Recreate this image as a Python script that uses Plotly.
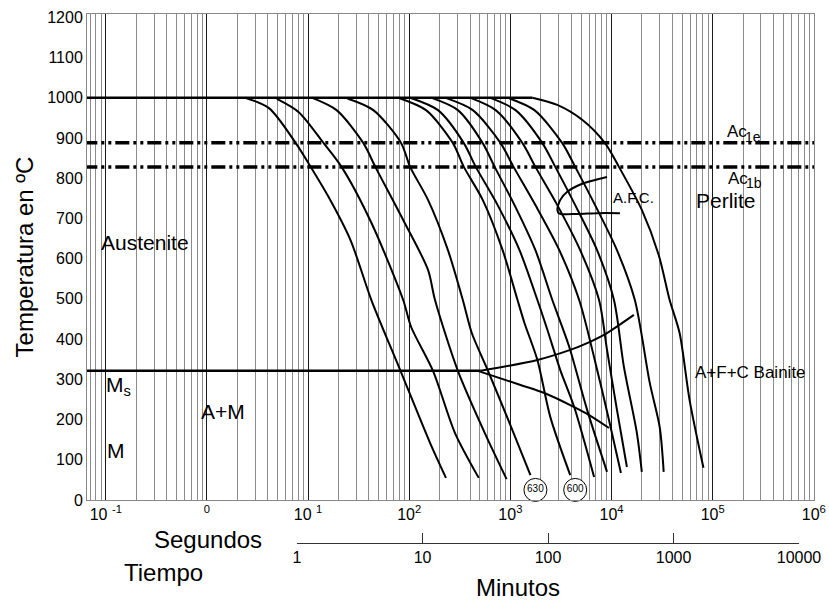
import plotly.graph_objects as go

# ---------------- data (time in seconds, temperature in ºC) ----------------
c1_t = [2.385, 4.106, 7.565, 10.62, 15.97, 26.27, 42.25, 81.45, 160.6, 230.8]
c1_T = [1000, 974, 887, 828, 753, 646, 497, 323, 142, 55]
c2_t = [4.92, 8.095, 14.26, 21.43, 42.25, 87.18, 104.5, 171.9, 282.9, 487]
c2_T = [997, 964, 887, 828, 689, 497, 430, 321, 167, 55]
c3_t = [10.87, 19.13, 35.26, 46.26, 87.18, 153.5, 179.9, 302.8, 557.8, 918]
c3_T = [1000, 969, 887, 828, 696, 572, 497, 321, 167, 52]
c4_t = [24.55, 44.2, 83.33, 102.1, 153.5, 241.5, 339, 415.6, 597, 982.2, 1580]
c4_T = [998, 969, 887, 828, 746, 621, 497, 415, 323, 191, 62]
c5_t = [77.85, 146.7, 270.4, 346.8, 533.1, 838.4, 1177.5, 1379, 1851, 2485, 3907]
c5_T = [1000, 969, 887, 828, 746, 621, 497, 440, 348, 206, 62]
c6_t = [102.1, 192.6, 346.8, 455, 748.7, 1231.6, 1851, 2322, 3117, 4278, 6727]
c6_T = [1000, 969, 887, 828, 733, 621, 497, 423, 323, 231, 57]
c7_t = [164.3, 302.8, 533.1, 699.5, 1100, 1769, 2600, 3336, 3907, 5741, 9029]
c7_T = [1000, 969, 887, 828, 733, 621, 497, 423, 373, 224, 70]
c8_t = [225.6, 425.1, 801.4, 1075.5, 1769, 3047, 4792, 6727, 9445, 12395]
c8_T = [1000, 969, 887, 828, 733, 621, 497, 355, 199, 67]
c9_t = [397.2, 715.5, 1318, 1769, 2912, 4901, 7533, 9029, 11320, 14200]
c9_T = [1000, 969, 887, 828, 733, 621, 497, 373, 224, 82]
c10_t = [624.6, 1125, 2073, 2782, 4375, 7200, 10578, 13264, 17807, 19935]
c10_T = [1000, 969, 887, 828, 733, 621, 497, 331, 167, 70]
c11_t = [938.9, 1730, 3261, 4375, 6880, 11320, 17014, 23897, 29968, 32800]
c11_T = [1000, 969, 887, 828, 733, 621, 497, 291, 181, 70]
c12_t = [1653, 2912, 5127, 8628, 11844, 19935, 29293, 37580, 47130, 59090, 81100]
c12_T = [1000, 982, 945, 887, 828, 721, 609, 497, 415, 249, 80]

aust_t = [0.06, 1653]          # austenitizing hold at 1000 ºC
aust_T = [1000, 1000]
ms_t = [0.06, 509.5]           # Ms line
ms_T = [321, 321]
bs_t = [509.5, 1851, 3907, 5741, 9029, 16634]     # bainite start
bs_T = [321, 348, 373, 390, 415, 460]
bf_t = [476.1, 1260, 2170, 3907, 5741, 9445]      # lower bainite boundary
bf_T = [321, 286, 266, 236, 214, 179]
afc_t = [9029, 5127, 3651, 3117, 2912, 3047, 4578, 7200, 12117]   # A.F.C. nose
afc_T = [803, 786, 766, 746, 721, 712, 711, 713, 713]

ac_t = [0.06, 1.1e6]
ac1e_T = [888, 888]
ac1b_T = [828, 828]

circle_t = [1769, 4375]
circle_T = [25, 25]
circle_labels = ["630", "600"]

sec_tickvals = [0.1, 1, 10, 100, 1e3, 1e4, 1e5, 1e6]
sec_ticktext = ["10 <sup>-1</sup>", "<sup>0</sup>", "10 <sup>1</sup>", "10<sup>2</sup>",
                "10<sup>3</sup>", "10<sup>4</sup>", "10<sup>5</sup>", "10<sup>6</sup>"]
min_tickvals = [1, 10, 100, 1000, 10000]
min_ticktext = ["1", "10", "100", "1000", "10000"]
temp_ticks = list(range(0, 1300, 100))

FONT = "Liberation Sans, Arial, sans-serif"

fig = go.Figure()

curves = [(c1_t, c1_T), (c2_t, c2_T), (c3_t, c3_T), (c4_t, c4_T), (c5_t, c5_T),
          (c6_t, c6_T), (c7_t, c7_T), (c8_t, c8_T), (c9_t, c9_T), (c10_t, c10_T),
          (c11_t, c11_T), (c12_t, c12_T)]
for t, T in curves:
    fig.add_trace(go.Scatter(x=t, y=T, mode="lines",
                             line=dict(color="black", width=2, shape="spline", smoothing=0.8),
                             hoverinfo="skip"))

for t, T, w in [(aust_t, aust_T, 2.5), (ms_t, ms_T, 2.5)]:
    fig.add_trace(go.Scatter(x=t, y=T, mode="lines", line=dict(color="black", width=w),
                             hoverinfo="skip"))
for t, T in [(bs_t, bs_T), (bf_t, bf_T), (afc_t, afc_T)]:
    fig.add_trace(go.Scatter(x=t, y=T, mode="lines",
                             line=dict(color="black", width=2, shape="spline", smoothing=0.8),
                             hoverinfo="skip"))

for T in (ac1e_T, ac1b_T):
    fig.add_trace(go.Scatter(x=ac_t, y=T, mode="lines",
                             line=dict(color="black", width=3.5, dash="14px,4px,3px,4px,3px,4px"),
                             hoverinfo="skip"))

fig.add_trace(go.Scatter(x=circle_t, y=circle_T, mode="markers+text", text=circle_labels,
                         textposition="middle center",
                         textfont=dict(size=10, color="black", family=FONT),
                         marker=dict(symbol="circle", size=23, color="white",
                                     line=dict(color="black", width=1)),
                         cliponaxis=False, hoverinfo="skip"))

# invisible trace so the minutes axis (x2 on a tiny y2) is drawn
fig.add_trace(go.Scatter(x=[1, 10000], y=[None, None], xaxis="x2", yaxis="y2",
                         mode="markers", marker=dict(opacity=0), hoverinfo="skip"))

ann = []
def label(x, y, text, size, xanchor="center"):
    ann.append(dict(x=x, y=y, xref="x", yref="y", text=text, showarrow=False,
                    font=dict(size=size, family=FONT, color="black"), xanchor=xanchor))

label(-0.6154, 641, "Austenite", 21)
label(-0.8709, 283, "M<sub>s</sub>", 21)
label(0.1612, 219, "A+M", 21)
label(-0.9004, 124, "M", 21)
label(5.135, 745, "Perlite", 21)
label(5.125, 917, "Ac", 17, "left")
label(5.302, 903, "1e", 14, "left")
label(5.135, 800, "Ac", 17, "left")
label(5.312, 787, "1b", 14, "left")
label(4.2212, 751, "A.F.C.", 15)
label(5.3716, 318, "A+F+C Bainite", 17)

for x, y, text in [(0.1664, 0.0057, "Segundos"), (0.1059, -0.0567, "Tiempo"),
                   (0.5929, -0.0832, "Minutos")]:
    ann.append(dict(x=x, y=y, xref="paper", yref="paper", text=text, showarrow=False,
                    font=dict(size=24, family=FONT, color="black"),
                    xanchor="center", yanchor="middle"))

fig.update_layout(
    width=829, height=601,
    margin=dict(l=87, r=15, t=14, b=58, autoexpand=False),
    paper_bgcolor="white", plot_bgcolor="rgba(0,0,0,0)",
    showlegend=False,
    font=dict(family=FONT, color="black"),
    annotations=ann,
    xaxis=dict(type="log", range=[-1.1855, 6.002], tickmode="array",
               tickvals=sec_tickvals, ticktext=sec_ticktext, automargin=False,
               showgrid=True, gridcolor="#1a1a1a", gridwidth=1,
               minor=dict(dtick="D1", showgrid=True, gridcolor="#8c8c8c", gridwidth=1, ticks=""),
               showline=True, linecolor="#888", linewidth=1, mirror=True,
               ticks="", tickfont=dict(size=16), zeroline=False),
    yaxis=dict(range=[0, 1208], domain=[0.0813, 1], tickmode="array", tickvals=temp_ticks,
               showgrid=False, showline=True, linecolor="#888", linewidth=1, mirror=True,
               ticks="", tickfont=dict(size=16), zeroline=False, automargin=False,
               title=dict(text="Temperatura en ºC", font=dict(size=24), standoff=6)),
    xaxis2=dict(type="log", range=[0, 4], domain=[0.2889, 0.9794], anchor="y2",
                tickmode="array", tickvals=min_tickvals, ticktext=min_ticktext,
                ticks="inside", ticklen=10, tickcolor="#333", tickwidth=1, automargin=False,
                showline=True, linecolor="#333", linewidth=1, showgrid=False,
                tickfont=dict(size=16), zeroline=False),
    yaxis2=dict(domain=[0, 0.001], anchor="x2", visible=False, range=[0, 1], automargin=False),
)

fig.write_html("out.html", config={"displayModeBar": False},
               post_script="document.body.style.margin='0px';")
